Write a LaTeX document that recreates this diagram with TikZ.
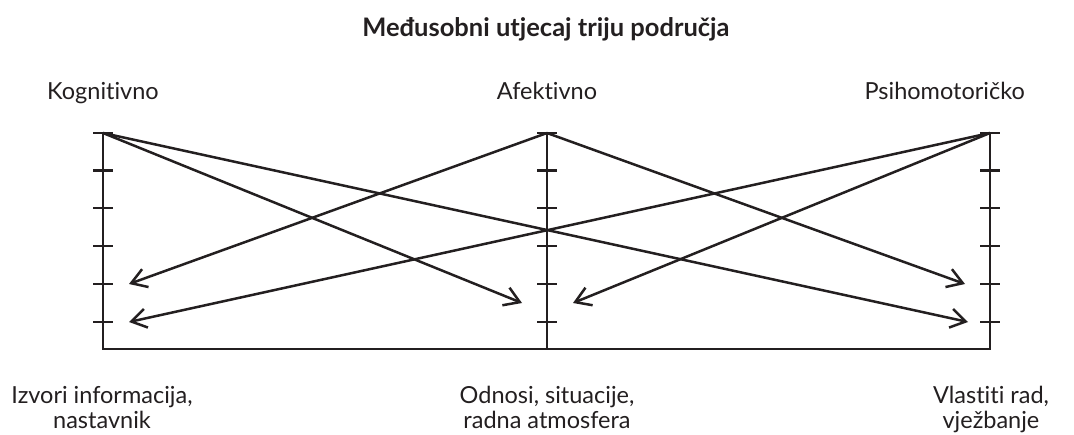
\documentclass[tikz,border=0pt]{standalone}
\usepackage{fontspec}
\setmainfont[Ligatures={NoCommon}]{Lato}
\usetikzlibrary{arrows.meta}
\definecolor{ink}{HTML}{231F20}
\begin{document}
\begin{tikzpicture}[x=1pt,y=-1pt,
  axis/.style={draw=ink,line width=2.6pt},
  tick/.style={draw=ink,line width=2.6pt},
  conn/.style={draw=ink,line width=2.5pt,-{Straight Barb[length=15pt,width=19pt]}},
  lbl/.style={text=ink,font=\fontsize{23.5}{25}\selectfont,inner sep=0pt,anchor=base},
  bot/.style={text=ink,font=\fontsize{23.5}{25}\selectfont,inner sep=0pt,align=center,anchor=base}]
\useasboundingbox (0,0) rectangle (1074,434);
% title
\node[text=ink,font=\fontsize{25.5}{28}\selectfont\bfseries,inner sep=0pt,anchor=base] (title) at (546,36) {Međusobni utjecaj triju područja};
% top labels
\node[lbl] (kog) at (103,99) {Kognitivno};
\node[lbl] (afe) at (547,99) {Afektivno};
\node[lbl,anchor=base east] (psi) at (1025,99) {Psihomotoričko};
% axes
\coordinate (LT) at (103,133);
\coordinate (MT) at (547,133);
\coordinate (RT) at (990,133);
\coordinate (LB) at (103,349);
\coordinate (MB) at (547,349);
\coordinate (RB) at (990,349);
\draw[axis] (LT) -- (LB) -- (RB) -- (RT);
\draw[axis] (MT) -- (MB);
\foreach \x in {103,547,990}{
  \foreach \y in {133,170.5,208,246,284,322}{
    \draw[tick] (\x-10,\y) -- (\x+10,\y);
  }
}
% arrow ends
\coordinate (e1) at (522,303);
\coordinate (e2) at (968,322);
\coordinate (e3) at (129,284);
\coordinate (e4) at (965,284);
\coordinate (e5) at (129,322);
\coordinate (e6) at (573,303);
\draw[conn] (LT) -- (e1);
\draw[conn] (LT) -- (e2);
\draw[conn] (MT) -- (e3);
\draw[conn] (MT) -- (e4);
\draw[conn] (RT) -- (e5);
\draw[conn] (RT) -- (e6);
% bottom labels
\node[bot] (izv) at (102,428) {Izvori informacija,\\nastavnik};
\node[bot] (odn) at (547,428) {Odnosi, situacije,\\radna atmosfera};
\node[bot] (vla) at (991,428) {Vlastiti rad,\\vježbanje};
\end{tikzpicture}
\end{document}
